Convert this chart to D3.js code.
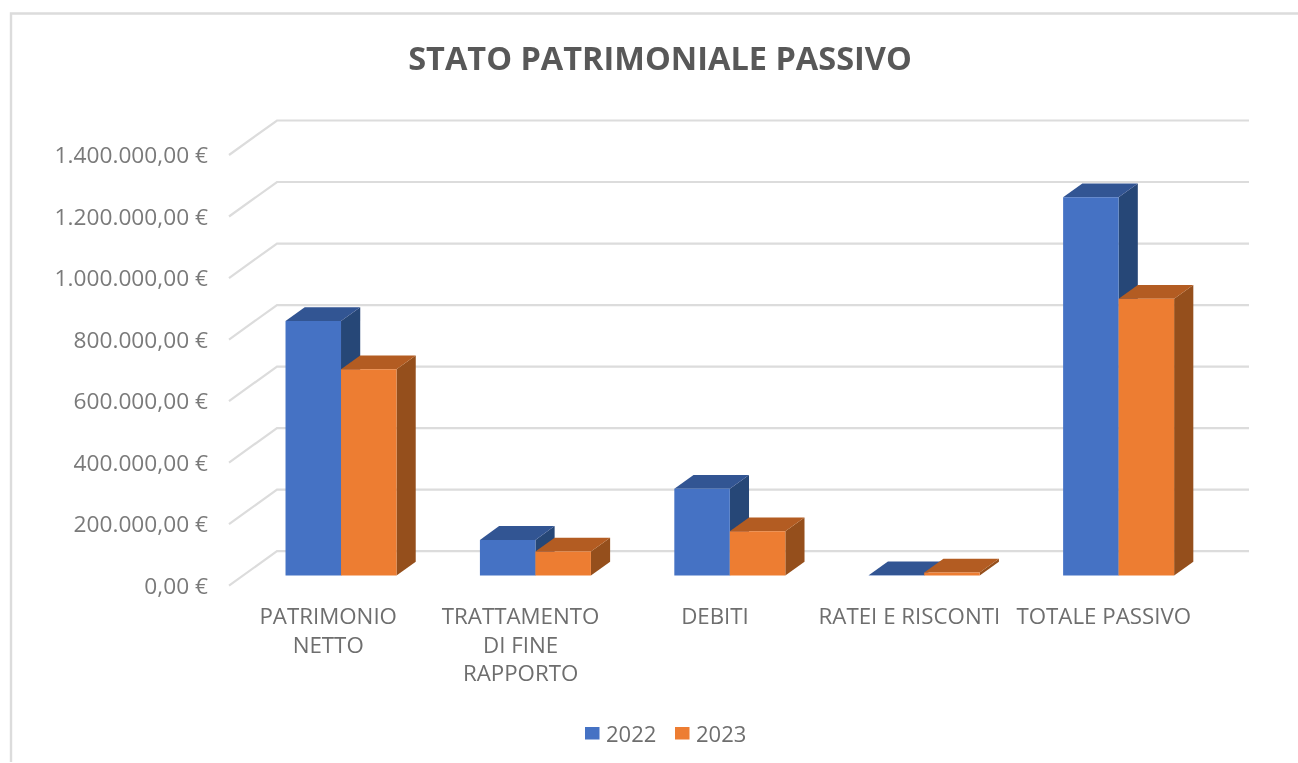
<!DOCTYPE html>
<html><head><meta charset="utf-8">
<script src="https://cdn.jsdelivr.net/npm/d3@7"></script>
<style>html,body{margin:0;padding:0;background:#fff}svg{display:block}</style>
</head><body><svg id="c" width="1298" height="763"></svg>
<script>
const title = "STATO PATRIMONIALE PASSIVO";
const categories = ["PATRIMONIO NETTO","TRATTAMENTO DI FINE RAPPORTO","DEBITI","RATEI E RISCONTI","TOTALE PASSIVO"];
const categoryLines = [["PATRIMONIO","NETTO"],["TRATTAMENTO","DI FINE","RAPPORTO"],["DEBITI"],["RATEI E RISCONTI"],["TOTALE PASSIVO"]];
const seriesNames = ["2022","2023"];
const values2022 = [828000,116000,282000,1000,1230000];
const values2023 = [671000,78000,144000,10000,900000];
const tickValues = [0,200000,400000,600000,800000,1000000,1200000,1400000];
const colors = {front:["#4472c4","#ed7d31"],top:["#325493","#b35c20"],side:["#284677","#954f1b"]};

const svg = d3.select("#c");
const fmt = v => d3.format(",.2f")(v).replace(/,/g,"#").replace(".",",").replace(/#/g,".")+" €";
const x = d3.scaleBand().domain(categories).range([229,1201]);
const y = d3.scaleLinear().domain([0,1400000]).range([585.6,155]);
const depth = d3.scaleLinear().domain([0,1]).range([0,48]);
const rise = d3.scaleLinear().domain([0,1]).range([0,34.5]);
const bw = 55.5, z0 = 0.29, z1 = 0.69;
const P = (px,py,z)=>[px+depth(z),py-rise(z)];
const poly = pts => pts.map(p=>p.join(",")).join(" ");
const font = "'Open Sans'";
const soft = svg.append("defs").append("filter").attr("id","soft").attr("filterUnits","userSpaceOnUse")
 .attr("x",0).attr("y",0).attr("width",1298).attr("height",763);
soft.append("feGaussianBlur").attr("stdDeviation",0.6);

const root = svg.append("g").attr("filter","url(#soft)");
root.append("rect").attr("width",1298).attr("height",763).attr("fill","#fff");
root.append("path").attr("fill","none").attr("stroke","#dcdcdc").attr("stroke-width",2.4)
 .attr("d",d3.line()([[11,762],[11,13.5],[1298,13.5]]));

root.append("text").attr("x",660).attr("y",70).attr("text-anchor","middle")
 .attr("font-family",font).attr("font-weight",700).attr("font-size",32.5).attr("fill","#595959").text(title);

const grid = root.append("g").selectAll("g").data(tickValues).join("g");
grid.append("polyline").attr("fill","none").attr("stroke","#dcdcdc").attr("stroke-width",2.2)
 .attr("points",d=>poly([[x.range()[0],y(d)],P(x.range()[0],y(d),1),P(x.range()[1],y(d),1)]));
grid.append("text").attr("x",208).attr("y",d=>y(d)+8).attr("text-anchor","end")
 .attr("font-family",font).attr("font-size",22.7).attr("fill","#7a7a7a").text(fmt);

const series = [values2022,values2023];
const bars = [];
categories.forEach((c,i)=>series.forEach((vals,s)=>bars.push({c,s,v:vals[i]})));
const gb = root.append("g").selectAll("g").data(bars).join("g");
gb.each(function(d){
  const g = d3.select(this);
  const xl = x(d.c)+x.bandwidth()/2-bw+d.s*bw+0.9, xr = xl+bw;
  const yb = y(0), yt = y(d.v);
  const a=P(xl,yt,z0), b=P(xr,yt,z0), c=P(xr,yt,z1), e=P(xl,yt,z1), f=P(xr,yb,z0), h=P(xr,yb,z1), k=P(xl,yb,z0);
  g.append("polygon").attr("points",poly([b,c,h,f])).attr("fill",colors.side[d.s]);
  g.append("polygon").attr("points",poly([a,b,c,e])).attr("fill",colors.top[d.s]);
  g.append("polygon").attr("points",poly([a,b,f,k])).attr("fill",colors.front[d.s]);
});

categoryLines.forEach((lines,i)=>{
  const t = root.append("text").attr("text-anchor","middle").attr("font-family",font).attr("font-size",22.3).attr("fill","#6e6e6e");
  lines.forEach((l,j)=>t.append("tspan").attr("x",x(categories[i])+x.bandwidth()/2+(i===0?2:0)).attr("y",624+j*28.5).text(l));
});

const lx = [585,675];
seriesNames.forEach((n,i)=>{
  root.append("rect").attr("x",lx[i]).attr("y",727).attr("width",14.5).attr("height",12.5).attr("fill",colors.front[i]);
  root.append("text").attr("x",lx[i]+21).attr("y",741.5).attr("font-family",font).attr("font-size",22).attr("fill","#6e6e6e").text(n);
});
</script></body></html>
